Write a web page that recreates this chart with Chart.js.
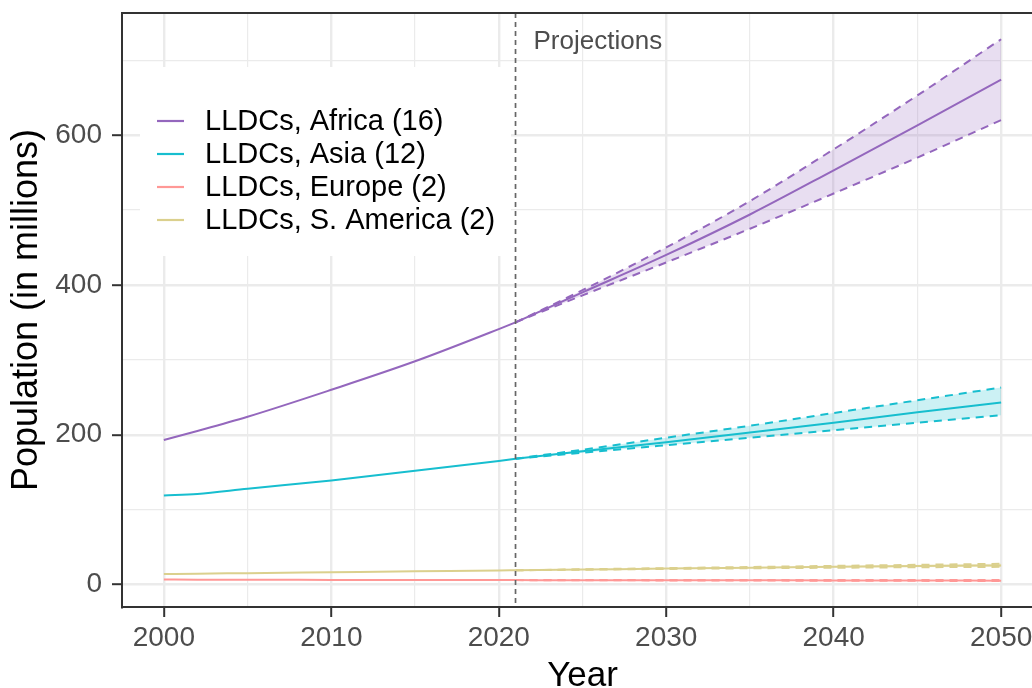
<!DOCTYPE html>
<html>
<head>
<meta charset="utf-8">
<script src="https://cdn.jsdelivr.net/npm/chart.js@4"></script>
<style>
  html, body { margin: 0; padding: 0; background: #fff; overflow: hidden; }
  #wrap { width: 1050px; height: 688px; }
</style>
</head>
<body>
<div id="wrap"><canvas id="chart" width="1050" height="688"></canvas></div>
<script>
// ---- data (millions) ----
const histYears = [2000, 2002, 2005, 2010, 2015, 2020, 2021];
const projYears = [2021, 2025, 2030, 2035, 2040, 2045, 2050];

const africaHist = [193, 205, 224, 260, 298, 341, 350];
const africaProj = [350, 390, 440, 494, 553, 613, 674];
const africaHigh = [350, 393, 450, 512, 581, 653, 728];
const africaLow  = [350, 386, 430, 475, 522, 570, 620];

const asiaHist = [119, 121, 128, 139, 152, 165, 168];
const asiaProj = [168, 178, 190, 203, 216, 230, 243];
const asiaHigh = [168, 180, 196, 212, 229, 246, 263];
const asiaLow  = [168, 176, 186, 196, 206, 216, 226];

const europeHist = [6.6, 6.5, 6.4, 6.2, 6.0, 5.9, 5.9];
const europeProj = [5.9, 5.8, 5.7, 5.6, 5.5, 5.4, 5.2];
const europeHigh = [5.9, 5.9, 5.9, 5.9, 5.9, 5.9, 5.9];
const europeLow  = [5.9, 5.7, 5.5, 5.3, 5.1, 4.9, 4.6];

const samHist = [14.0, 14.5, 15.2, 16.4, 17.6, 18.7, 19.0];
const samProj = [19.0, 20.0, 21.3, 22.5, 23.6, 24.6, 25.5];
const samHigh = [19.0, 20.3, 21.9, 23.4, 24.9, 26.3, 27.7];
const samLow  = [19.0, 19.8, 20.8, 21.7, 22.4, 23.1, 23.6];

const regionNames = ["LLDCs, Africa (16)", "LLDCs, Asia (12)", "LLDCs, Europe (2)", "LLDCs, S. America (2)"];
const xTicks = [2000, 2005, 2010, 2015, 2020, 2025, 2030, 2035, 2040, 2045, 2050];
const yTicks = [0, 100, 200, 300, 400, 500, 600, 700];
const projStart = 2021;

// ---- styles ----
const colors = ["#9467bd", "#17becf", "#ff9896", "#dbd08d"];
const bands  = ["rgba(148,103,189,0.22)", "rgba(23,190,207,0.22)", "rgba(255,152,150,0.25)", "rgba(219,208,141,0.3)"];
const FONT = '"Liberation Sans", Arial, sans-serif';

function pts(xs, ys) { return xs.map((x, i) => ({x: x, y: ys[i]})); }

const hist = [africaHist, asiaHist, europeHist, samHist];
const proj = [africaProj, asiaProj, europeProj, samProj];
const high = [africaHigh, asiaHigh, europeHigh, samHigh];
const low  = [africaLow, asiaLow, europeLow, samLow];

let datasets = [];
for (let i = 0; i < 4; i++) {
  datasets.push({
    data: pts(projYears, high[i]), borderColor: colors[i], borderWidth: 2, borderDash: [8, 6],
    backgroundColor: bands[i], fill: '+1', pointRadius: 0, cubicInterpolationMode: 'monotone'
  });
  datasets.push({
    data: pts(projYears, low[i]), borderColor: colors[i], borderWidth: 2, borderDash: [8, 6],
    fill: false, pointRadius: 0, cubicInterpolationMode: 'monotone'
  });
  datasets.push({
    data: pts(projYears, proj[i]), borderColor: colors[i], borderWidth: 2,
    fill: false, pointRadius: 0, cubicInterpolationMode: 'monotone'
  });
  datasets.push({
    data: pts(histYears, hist[i]), borderColor: colors[i], borderWidth: 2,
    fill: false, pointRadius: 0, cubicInterpolationMode: 'monotone'
  });
}

// legend box, projection line, top border
const extras = {
  id: 'extras',
  beforeDatasetsDraw(chart) {
    const c = chart.ctx;
    c.save();
    c.fillStyle = '#fff';
    c.fillRect(140, 67, 371, 189);
    c.font = '29px ' + FONT;
    c.textBaseline = 'middle';
    c.textAlign = 'left';
    for (let i = 0; i < regionNames.length; i++) {
      const y = 121 + i * 33;
      c.strokeStyle = colors[i];
      c.lineWidth = 2.2;
      c.beginPath();
      c.moveTo(157, y);
      c.lineTo(184, y);
      c.stroke();
      c.fillStyle = '#000';
      c.fillText(regionNames[i], 205, y + 1);
    }
    c.restore();
  },
  afterDatasetsDraw(chart) {
    const c = chart.ctx, a = chart.chartArea;
    const x = chart.scales.x.getPixelForValue(projStart);
    c.save();
    c.strokeStyle = '#666';
    c.lineWidth = 1.7;
    c.setLineDash([5, 4]);
    c.beginPath();
    c.moveTo(x, a.top);
    c.lineTo(x, a.bottom);
    c.stroke();
    c.setLineDash([]);
    c.fillStyle = '#4d4d4d';
    c.font = '26px ' + FONT;
    c.textBaseline = 'alphabetic';
    c.fillText('Projections', x + 18, 49);
    c.strokeStyle = '#333';
    c.lineWidth = 2;
    c.beginPath();
    c.moveTo(a.left, a.top);
    c.lineTo(a.right, a.top);
    c.lineTo(a.right, a.bottom);
    c.stroke();
    c.restore();
  }
};

new Chart(document.getElementById('chart'), {
  type: 'line',
  data: { datasets: datasets },
  plugins: [extras],
  options: {
    responsive: false,
    animation: false,
    layout: { padding: { top: 13, right: 7, left: 0, bottom: 0 } },
    plugins: { legend: { display: false }, tooltip: { enabled: false } },
    scales: {
      x: {
        type: 'linear', min: 1997.5, max: 2052.5,
        afterBuildTicks: s => { s.ticks = xTicks.map(v => ({value: v})); },
        afterFit: s => { s.height = 81; s.paddingLeft = 0; s.paddingRight = 0; },
        ticks: {
          autoSkip: false, maxRotation: 0, padding: 4, color: '#4d4d4d',
          font: { family: FONT, size: 28 },
          callback: v => (v % 10 === 0 ? String(v) : '')
        },
        grid: {
          color: '#ebebeb',
          lineWidth: ctx => (ctx.tick && ctx.tick.value % 10 === 0 ? 2.4 : 1.2),
          tickLength: 10, tickWidth: 2,
          tickColor: ctx => (ctx.tick && ctx.tick.value % 10 === 0 ? '#333' : 'rgba(0,0,0,0)')
        },
        border: { display: true, color: '#333', width: 2 },
        title: {
          display: true, text: 'Year', color: '#000',
          font: { family: FONT, size: 35 }, padding: { top: 0, bottom: -9 }
        }
      },
      y: {
        type: 'linear', min: -30, max: 763,
        afterBuildTicks: s => { s.ticks = yTicks.map(v => ({value: v})); },
        afterFit: s => { s.width = 122; s.paddingTop = 0; s.paddingBottom = 0; },
        ticks: {
          padding: 10, color: '#4d4d4d',
          font: { family: FONT, size: 28 },
          callback: v => (v % 200 === 0 ? String(v) : '')
        },
        grid: {
          color: '#ebebeb',
          lineWidth: ctx => (ctx.tick && ctx.tick.value % 200 === 0 ? 2.4 : 1.2),
          tickLength: 10, tickWidth: 2,
          tickColor: ctx => (ctx.tick && ctx.tick.value % 200 === 0 ? '#333' : 'rgba(0,0,0,0)')
        },
        border: { display: true, color: '#333', width: 2 },
        title: {
          display: true, text: 'Population (in millions)', color: '#000',
          font: { family: FONT, size: 36 }, padding: { top: 5, bottom: 0 }
        }
      }
    }
  }
});
</script>
</body>
</html>
